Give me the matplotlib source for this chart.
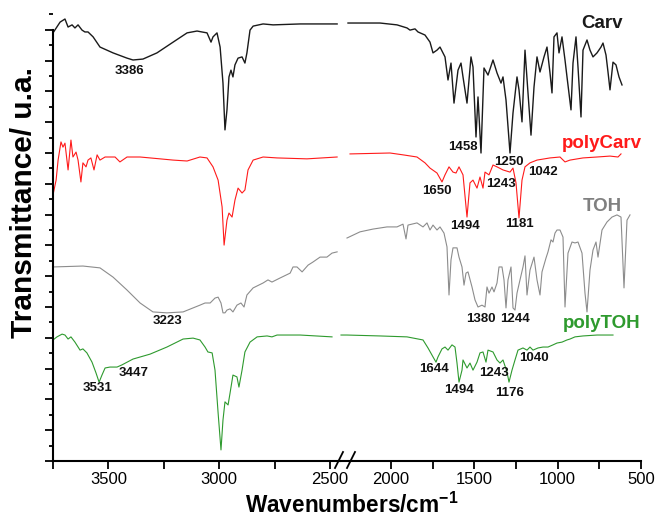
import matplotlib
matplotlib.use("Agg")
from matplotlib import pyplot as plt
from matplotlib.lines import Line2D
from matplotlib.ticker import FixedLocator, NullFormatter, MultipleLocator

plt.rcParams['font.family'] = ['Liberation Sans', 'DejaVu Sans']
plt.rcParams['mathtext.fontset'] = 'custom'
plt.rcParams['mathtext.rm'] = 'Liberation Sans'
plt.rcParams['mathtext.bf'] = 'Liberation Sans:bold'

# ---- spectra, high wavenumber part (left panel) ----
carv_hi_x = [3750, 3718, 3696, 3682, 3664, 3651, 3637, 3619, 3606, 3592, 3569, 3538, 3479, 3416, 3389,
             3344, 3281, 3208, 3145, 3100, 3078, 3055, 3037, 3028, 3010, 2996, 2983, 2974, 2965, 2956,
             2947, 2938, 2929, 2915, 2897, 2884, 2875, 2861, 2847, 2802, 2757, 2635, 2468]
carv_hi_y = [13.90, 14.25, 14.35, 14.09, 14.16, 14.06, 14.16, 13.99, 13.93, 13.93, 13.77, 13.44, 13.25, 13.08, 13.02,
             13.05, 13.25, 13.60, 13.90, 13.96, 13.93, 13.90, 13.60, 13.77, 13.90, 13.44, 12.27, 10.75, 11.40, 12.47,
             12.69, 12.47, 12.86, 13.08, 13.12, 12.92, 13.25, 13.99, 14.12, 14.19, 14.16, 14.19, 14.19]

pcarv_hi_x = [3750, 3736, 3727, 3714, 3705, 3696, 3682, 3669, 3660, 3646, 3637, 3624, 3615, 3601, 3592,
              3579, 3565, 3551, 3538, 3515, 3493, 3470, 3448, 3416, 3357, 3267, 3208, 3145, 3087, 3055,
              3028, 3005, 2987, 2978, 2965, 2956, 2942, 2929, 2915, 2897, 2884, 2870, 2847, 2802, 2739,
              2604, 2468]
pcarv_hi_y = [8.64, 9.12, 9.77, 10.36, 10.19, 10.32, 9.45, 10.42, 9.87, 10.03, 9.77, 9.06, 9.68, 9.55, 9.77,
              9.84, 9.45, 9.94, 9.77, 9.87, 9.87, 9.87, 9.71, 9.87, 9.87, 9.81, 9.77, 9.74, 9.87, 9.84,
              9.55, 9.12, 8.25, 7.01, 7.82, 8.05, 7.92, 8.47, 8.86, 8.70, 8.80, 9.45, 9.77, 9.87, 9.84,
              9.81, 9.87]

toh_hi_x = [3750, 3615, 3538, 3479, 3416, 3357, 3299, 3236, 3163, 3087, 3064, 3041, 3019, 3005, 2992,
            2983, 2974, 2965, 2951, 2938, 2920, 2902, 2888, 2875, 2847, 2802, 2780, 2762, 2726, 2680,
            2667, 2649, 2626, 2599, 2577, 2545, 2514, 2491, 2468]
toh_hi_y = [6.30, 6.33, 6.27, 5.97, 5.55, 5.13, 4.84, 4.81, 4.84, 5.06, 5.13, 5.13, 5.29, 5.32, 5.13,
            4.81, 4.81, 4.90, 4.94, 4.84, 5.06, 5.13, 5.00, 5.39, 5.62, 5.78, 5.88, 5.81, 5.94, 6.10,
            6.30, 6.30, 6.14, 6.36, 6.46, 6.62, 6.62, 6.75, 6.79]

ptoh_hi_x = [3750, 3732, 3709, 3696, 3682, 3669, 3651, 3628, 3615, 3597, 3574, 3556, 3542, 3529, 3515,
             3493, 3461, 3439, 3389, 3312, 3236, 3163, 3118, 3087, 3064, 3051, 3032, 3019, 3005, 2992,
             2983, 2974, 2960, 2951, 2938, 2920, 2911, 2897, 2884, 2861, 2829, 2784, 2762, 2739, 2635,
             2491]
ptoh_hi_y = [3.93, 4.03, 4.12, 4.09, 3.96, 4.03, 3.86, 3.60, 3.64, 3.51, 3.21, 2.86, 2.56, 2.79, 3.02,
             3.05, 3.05, 3.12, 3.31, 3.47, 3.70, 3.96, 3.99, 3.93, 3.70, 3.54, 3.51, 2.95, 1.56, 0.36,
             1.33, 1.92, 1.82, 2.21, 2.79, 2.73, 2.40, 2.95, 3.54, 3.86, 4.03, 4.06, 4.03, 4.09, 4.09,
             4.03]

# ---- spectra, low wavenumber part (right panel) ----
carv_lo_x = [2258, 2066, 1964, 1904, 1886, 1856, 1838, 1796, 1766, 1748, 1724, 1706, 1676, 1658, 1640,
             1622, 1598, 1580, 1568, 1544, 1520, 1508, 1490, 1478, 1460, 1442, 1418, 1388, 1364, 1340,
             1328, 1310, 1286, 1268, 1244, 1232, 1214, 1196, 1178, 1160, 1142, 1124, 1106, 1082, 1064,
             1046, 1034, 1022, 1004, 992, 974, 956, 944, 920, 908, 890, 878, 860, 848, 824,
             806, 788, 764, 740, 728, 710, 698, 686, 668, 650, 632, 614]
carv_lo_y = [14.22, 14.22, 14.16, 14.06, 13.99, 14.03, 13.93, 13.83, 13.60, 13.25, 13.34, 13.44, 13.12, 12.37, 12.92,
             11.62, 12.69, 12.92, 12.47, 11.62, 13.12, 12.79, 10.52, 11.82, 10.00, 12.76, 12.53, 13.02, 12.60, 12.27,
             12.47, 11.72, 10.00, 11.30, 12.47, 12.05, 11.01, 13.34, 11.95, 10.58, 12.14, 13.12, 12.63, 13.12, 13.44,
             12.60, 11.95, 13.77, 13.90, 13.25, 13.77, 13.02, 12.47, 11.40, 12.92, 13.77, 12.79, 11.17, 13.34, 13.67,
             13.34, 13.12, 13.25, 13.44, 13.57, 13.18, 12.63, 12.05, 12.95, 12.86, 12.47, 12.21]

pcarv_lo_x = [2246, 2006, 1928, 1844, 1796, 1766, 1724, 1694, 1676, 1652, 1628, 1610, 1592, 1568, 1544,
              1526, 1508, 1484, 1466, 1448, 1436, 1412, 1388, 1364, 1328, 1286, 1268, 1250, 1232, 1214,
              1196, 1166, 1124, 1046, 986, 956, 926, 848, 764, 686, 638, 620]
pcarv_lo_y = [9.97, 10.00, 9.94, 9.87, 9.68, 9.51, 9.35, 9.06, 9.29, 9.55, 9.38, 9.35, 9.55, 9.29, 7.92,
              9.03, 9.12, 8.86, 9.22, 8.86, 9.38, 9.29, 9.61, 9.55, 9.45, 9.38, 9.51, 9.03, 7.89, 9.12,
              9.55, 9.68, 9.77, 9.84, 9.87, 9.71, 9.77, 9.84, 9.87, 9.90, 9.87, 9.97]

toh_lo_x = [2264, 2186, 2108, 2024, 1964, 1928, 1910, 1898, 1844, 1808, 1784, 1766, 1748, 1724, 1706,
            1682, 1664, 1652, 1640, 1628, 1604, 1592, 1574, 1562, 1550, 1538, 1514, 1496, 1478, 1454,
            1436, 1424, 1412, 1394, 1382, 1364, 1352, 1334, 1322, 1310, 1298, 1280, 1268, 1256, 1244,
            1226, 1208, 1196, 1184, 1166, 1142, 1124, 1106, 1094, 1070, 1058, 1040, 1028, 1016, 1004,
            986, 968, 956, 938, 914, 896, 878, 854, 836, 824, 806, 788, 770, 758, 734,
            704, 674, 644, 620, 602, 584, 566]
toh_lo_y = [7.24, 7.44, 7.53, 7.60, 7.60, 7.69, 7.21, 7.66, 7.73, 7.60, 7.73, 7.50, 7.66, 7.50, 7.60,
            7.40, 6.95, 5.39, 6.53, 6.92, 6.92, 6.62, 6.30, 5.71, 6.10, 6.14, 5.65, 5.23, 5.00, 5.06,
            5.00, 5.65, 5.45, 5.65, 5.49, 5.78, 6.30, 6.30, 5.88, 4.97, 5.88, 6.30, 4.97, 4.90, 5.45,
            5.88, 6.30, 6.66, 5.39, 6.20, 6.62, 5.88, 5.39, 6.14, 6.59, 6.79, 7.18, 7.11, 7.40, 7.50,
            7.50, 7.27, 5.00, 6.75, 7.11, 7.08, 7.11, 6.75, 5.45, 4.84, 6.20, 6.85, 7.11, 6.62, 7.50,
            7.76, 7.92, 7.99, 7.92, 5.62, 7.82, 7.99]

ptoh_lo_x = [2300, 2264, 2066, 1904, 1808, 1778, 1748, 1730, 1718, 1694, 1676, 1658, 1634, 1616, 1604,
             1592, 1574, 1568, 1544, 1526, 1508, 1484, 1466, 1448, 1430, 1418, 1388, 1364, 1346, 1328,
             1304, 1292, 1274, 1256, 1238, 1208, 1184, 1166, 1148, 1118, 1088, 1058, 1028, 1004, 974,
             944, 926, 896, 848, 764, 668]
ptoh_lo_y = [4.09, 4.09, 4.06, 4.03, 3.93, 3.67, 3.38, 3.21, 3.38, 3.64, 3.70, 3.60, 3.77, 3.70, 3.18,
             2.56, 2.95, 3.28, 3.02, 3.18, 2.95, 3.21, 3.51, 3.54, 3.21, 3.60, 3.54, 3.28, 3.18, 3.28,
             2.89, 2.56, 2.95, 3.28, 3.60, 3.67, 3.60, 3.70, 3.60, 3.67, 3.70, 3.70, 3.77, 3.83, 3.86,
             3.93, 3.96, 4.03, 4.06, 4.09, 4.09]

# peak annotations: (text, wavenumber, height)
peaks_hi = [("3386", 3407, 12.66), ("3223", 3231, 4.55), ("3531", 3551, 2.37), ("3447", 3384, 2.86)]
peaks_lo = [("1458", 1568, 10.19), ("1250", 1292, 9.71), ("1650", 1724, 8.77), ("1494", 1556, 7.63),
            ("1243", 1340, 8.99), ("1181", 1232, 7.69), ("1042", 1088, 9.38), ("1380", 1460, 4.61),
            ("1244", 1256, 4.61), ("1644", 1742, 2.99), ("1494", 1592, 2.31), ("1243", 1382, 2.86),
            ("1176", 1286, 2.21), ("1040", 1142, 3.34)]
names = ["Carv", "polyCarv", "TOH", "polyTOH"]
name_y = [14.22, 10.32, 8.25, 4.45]
colors = ["#1a1a1a", "#ff1a1a", "#8c8c8c", "#2e9a2e"]

W, H = 656, 524
fig = plt.figure(figsize=(W / 100, H / 100), dpi=100)
bot, top = 461, 10
ax1 = fig.add_axes([53 / W, 1 - bot / H, (340 - 53) / W, (bot - top) / H])
ax2 = fig.add_axes([340 / W, 1 - bot / H, (641 - 340) / W, (bot - top) / H])

ymax = (bot - top) / 30.8
for ax in (ax1, ax2):
    ax.set_ylim(0, ymax)
    ax.spines['top'].set_visible(False)
    ax.spines['right'].set_visible(False)
    ax.spines['bottom'].set_linewidth(1.5)
    ax.spines['left'].set_linewidth(1.5)
    ax.patch.set_alpha(0)
    ax.tick_params(axis='x', which='both', direction='out', length=6, width=1.3,
                   labelsize=12, pad=2)

ax1.set_xlim(3750, 2455)
ax2.set_xlim(2306, 500)
ax1.xaxis.set_major_locator(FixedLocator([3500, 3000, 2500]))
ax1.xaxis.set_minor_locator(FixedLocator([3750, 3250, 2750]))
ax2.xaxis.set_major_locator(FixedLocator([2000, 1500, 1000, 500]))
ax2.xaxis.set_minor_locator(FixedLocator([1750, 1250, 750]))

ax1.spines['left'].set_bounds(0, 14)
ax1.yaxis.set_major_locator(MultipleLocator(1))
ax1.yaxis.set_minor_locator(MultipleLocator(0.5))
ax1.yaxis.set_major_formatter(NullFormatter())
ax1.tick_params(axis='y', which='major', direction='out', length=6, width=1.3)
ax1.tick_params(axis='y', which='minor', direction='out', length=3, width=1.3)
ax2.spines['left'].set_visible(False)
ax2.set_yticks([])

ax1.plot(carv_hi_x, carv_hi_y, color=colors[0], lw=1.0)
ax1.plot(pcarv_hi_x, pcarv_hi_y, color=colors[1], lw=0.8)
ax1.plot(toh_hi_x, toh_hi_y, color=colors[2], lw=0.8)
ax1.plot(ptoh_hi_x, ptoh_hi_y, color=colors[3], lw=0.8)
ax2.plot(carv_lo_x, carv_lo_y, color=colors[0], lw=1.0)
ax2.plot(pcarv_lo_x, pcarv_lo_y, color=colors[1], lw=0.8)
ax2.plot(toh_lo_x, toh_lo_y, color=colors[2], lw=0.8)
ax2.plot(ptoh_lo_x, ptoh_lo_y, color=colors[3], lw=0.8)

for t, x, y in peaks_hi:
    ax1.text(x, y, t, ha='center', va='center', fontsize=9.5, fontweight='bold', color='#111111')
for t, x, y in peaks_lo:
    ax2.text(x, y, t, ha='center', va='center', fontsize=9.5, fontweight='bold', color='#111111')
for n, y, c in zip(names, name_y, colors):
    ax2.text(734, y, n, ha='center', va='center', fontsize=13.5, fontweight='bold',
             color=c if c != "#8c8c8c" else "#808080")

# axis break marks
for x0 in (335, 347):
    fig.add_artist(Line2D([x0 / W, (x0 + 8) / W], [1 - 468 / H, 1 - 452 / H],
                          color='black', lw=1.3))

fig.text(352 / W, 1 - 505 / H, r'Wavenumbers/cm$^{\mathbf{-1}}$', ha='center', va='center',
         fontsize=16.3, fontweight='bold')
fig.text(24 / W, 1 - 203 / H, 'Transmittance/ u.a.', ha='center', va='center',
         rotation=90, fontsize=21.5, fontweight='bold')

fig.savefig("out.png", dpi=100)
